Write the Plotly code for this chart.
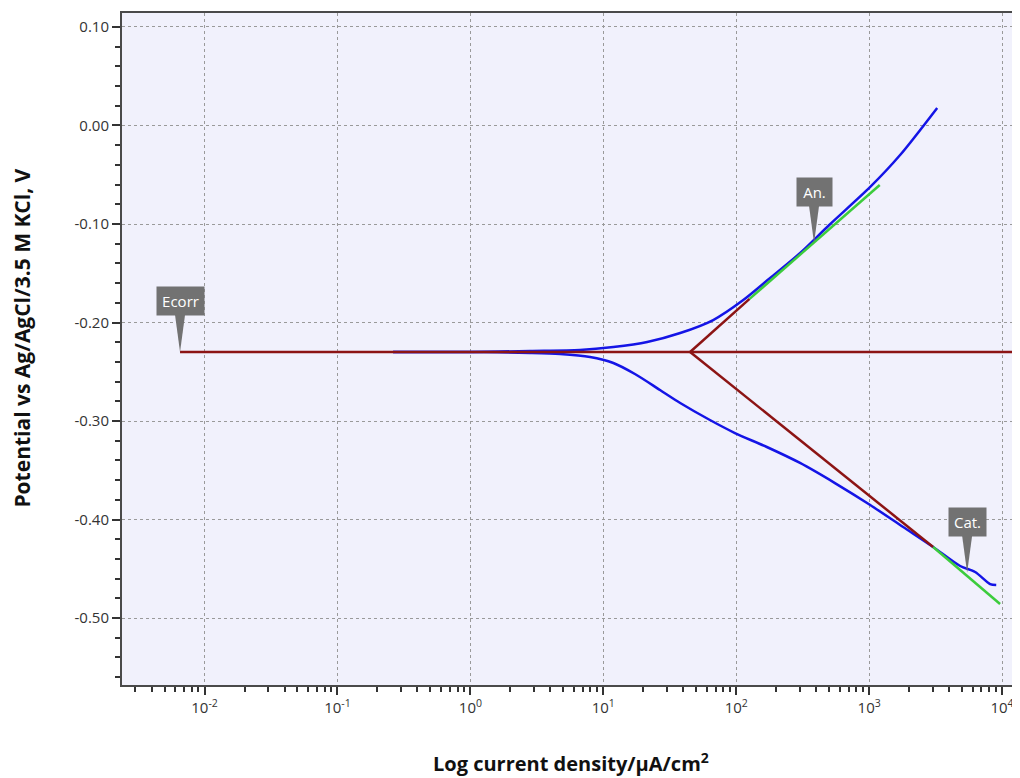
"""
Tafel plot: potentiodynamic polarisation curve with Tafel fits
"""
import math
import plotly.graph_objects as go

# measured curve, anodic and cathodic branches (current density in uA/cm2, potential in V)
anodic_i = [0.262, 1.0, 2.81, 6.68, 11.9, 21.4, 37.9, 67.1, 113, 180, 303, 501, 1019, 1710,
            3250]
anodic_E = [-0.2299, -0.2299, -0.2289, -0.2279, -0.2249, -0.2198, -0.2107, -0.1975, -0.1772,
            -0.1548, -0.1294, -0.1010, -0.0624, -0.0300, 0.0178]

cathodic_i = [0.262, 1.0, 2.81, 4.73, 7.95, 11.9, 17.3, 26.7, 37.9, 63.4, 97.8, 170, 302, 553,
              1019, 1803, 3031, 4840, 6270, 8130, 9040]
cathodic_E = [-0.2299, -0.2300, -0.2309, -0.2320, -0.2350, -0.2411, -0.2523, -0.2685, -0.2817,
              -0.2990, -0.3122, -0.3264, -0.3426, -0.3630, -0.3853, -0.4076, -0.4279, -0.4472,
              -0.4533, -0.4655, -0.4665]

# Tafel extrapolation
ecorr_i = [0.00654, 14000]
ecorr_E = [-0.2299, -0.2299]
an_fit_i = [45, 126]
an_fit_E = [-0.2299, -0.1760]
cat_fit_i = [45, 3031]
cat_fit_E = [-0.2299, -0.4279]
an_green_i = [126, 1202]
an_green_E = [-0.1760, -0.0604]
cat_green_i = [3031, 9660]
cat_green_E = [-0.4279, -0.4858]

# callouts
callout_text = ['Ecorr', 'An.', 'Cat.']
callout_i = [0.00654, 385, 5460]
callout_E = [-0.2299, -0.1193, -0.4540]
callout_w = [47, 35, 37]

# axis ticks
x_tickvals = [0.01, 0.1, 1, 10, 100, 1000, 10000]
x_ticktext = ['10<sup>-2</sup>', '10<sup>-1</sup>', '10<sup>0</sup>', '10<sup>1</sup>',
              '10<sup>2</sup>', '10<sup>3</sup>', '10<sup>4</sup>']
y_tickvals = [0.10, 0.00, -0.10, -0.20, -0.30, -0.40, -0.50]
y_ticktext = ['0.10', '0.00', '-0.10', '-0.20', '-0.30', '-0.40', '-0.50']

BLUE = '#1414e6'
RED = '#8c1414'
GREEN = '#3ccc3c'
GREY = '#727272'
FONT = 'Open Sans'

fig = go.Figure()

fig.add_trace(go.Scatter(x=anodic_i, y=anodic_E, mode='lines',
                         line=dict(color=BLUE, width=2.5, shape='spline', smoothing=0.8)))
fig.add_trace(go.Scatter(x=cathodic_i, y=cathodic_E, mode='lines',
                         line=dict(color=BLUE, width=2.5, shape='spline', smoothing=0.8)))

for xs, ys in [(ecorr_i, ecorr_E), (an_fit_i, an_fit_E), (cat_fit_i, cat_fit_E)]:
    fig.add_trace(go.Scatter(x=xs, y=ys, mode='lines', line=dict(color=RED, width=2.5)))

for xs, ys in [(an_green_i, an_green_E), (cat_green_i, cat_green_E)]:
    fig.add_trace(go.Scatter(x=xs, y=ys, mode='lines', line=dict(color=GREEN, width=2.5)))

# callout boxes with a pointer down to the curve
for txt, ci, ce, w in zip(callout_text, callout_i, callout_E, callout_w):
    fig.add_shape(type='path', xref='x', yref='y',
                  xsizemode='pixel', ysizemode='pixel',
                  xanchor=ci, yanchor=ce,
                  path='M -5,37 L 5,37 L 0,0 Z',
                  fillcolor=GREY, line=dict(width=0))
    fig.add_annotation(x=math.log10(ci), y=ce, xref='x', yref='y', text=txt,
                       showarrow=False, xanchor='center', yanchor='bottom', yshift=36,
                       width=w, height=28, bgcolor=GREY, borderpad=0,
                       font=dict(family=FONT, size=15, color='white'))

# axis titles
fig.add_annotation(text='Potential vs Ag/AgCl/3.5 M KCl, V', xref='paper', yref='paper',
                   x=-0.111, y=0.516, xanchor='center', yanchor='middle',
                   textangle=-90, showarrow=False,
                   font=dict(family=FONT, size=21, color='#111111', weight='bold'))
fig.add_annotation(text='Log current density/µA/cm<sup>2</sup>', xref='paper', yref='paper',
                   x=0.5, y=-0.1146, xanchor='center', yanchor='middle', showarrow=False,
                   font=dict(family=FONT, size=20, color='#111111', weight='bold'))

fig.update_xaxes(type='log', range=[-2.621, 4.135], automargin=False,
                 tickmode='array', tickvals=x_tickvals, ticktext=x_ticktext,
                 ticks='outside', ticklen=8, tickwidth=2, tickcolor='#333333',
                 minor=dict(ticks='outside', ticklen=5, tickwidth=2, tickcolor='#333333',
                            dtick='D1', showgrid=False),
                 showgrid=True, gridcolor='#9a9a9a', griddash='dot', gridwidth=1.3,
                 showline=True, linecolor='#4a4a4a', linewidth=2, mirror=True,
                 zeroline=False, tickfont=dict(family=FONT, size=15, color='#333333'))
fig.update_yaxes(range=[-0.568, 0.1142], automargin=False,
                 tickmode='array', tickvals=y_tickvals, ticktext=y_ticktext,
                 ticks='outside', ticklen=8, tickwidth=2, tickcolor='#333333',
                 minor=dict(ticks='outside', ticklen=5, tickwidth=2, tickcolor='#333333',
                            dtick=0.02, tick0=0, showgrid=False),
                 showgrid=True, gridcolor='#9a9a9a', griddash='dot', gridwidth=1.3,
                 showline=True, linecolor='#4a4a4a', linewidth=2,
                 zeroline=False, tickfont=dict(family=FONT, size=15, color='#333333'))

# the page body adds an 8px margin, so the figure is sized to the visible area
fig.update_layout(
    width=1012, height=770,
    margin=dict(l=114, r=0, t=5, b=93),
    plot_bgcolor='#f1f1fc',
    paper_bgcolor='white',
    showlegend=False,
)

fig.write_html("out.html")
